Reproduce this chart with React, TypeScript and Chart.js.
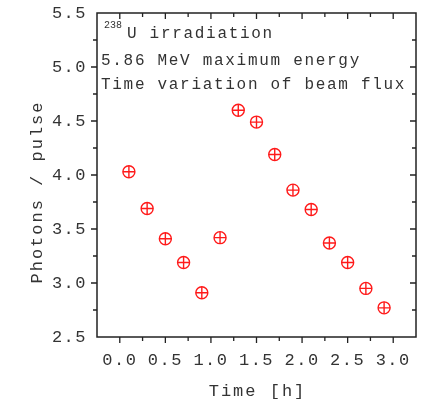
import React, { useEffect, useRef } from "react";
import { Chart, registerables } from "chart.js";

Chart.register(...registerables);

const timeHours = [0.1, 0.3, 0.5, 0.7, 0.9, 1.1, 1.3, 1.5, 1.7, 1.9, 2.1, 2.3, 2.5, 2.7, 2.9];
const photonsPerPulse = [4.03, 3.69, 3.41, 3.19, 2.91, 3.42, 4.6, 4.49, 4.19, 3.86, 3.68, 3.37, 3.19, 2.95, 2.77];
const xTickValues = [0, 0.5, 1.0, 1.5, 2.0, 2.5, 3.0];
const yTickValues = [2.5, 3.0, 3.5, 4.0, 4.5, 5.0, 5.5];
const xMinorStep = 0.25;
const yMinorStep = 0.25;
const annotationLines = ["U irradiation", "5.86 MeV maximum energy", "Time variation of beam flux"];
const annotationSup = "238";
const xTitle = "Time [h]";
const yTitle = "Photons / pulse";

const FONT = "'Liberation Mono', 'DejaVu Sans Mono', monospace";
const TEXT = "#333";
const RED = "#ff1a1a";

const framePlugin = {
  id: "frame",
  beforeDraw(chart: any) {
    chart.ctx.letterSpacing = "1.5px";
  },
  afterDraw(chart: any) {
    const { ctx, chartArea } = chart;
    const xs = chart.scales.x;
    const ys = chart.scales.y;
    const { left, right, top, bottom } = chartArea;
    ctx.save();
    ctx.strokeStyle = "#222";
    ctx.lineWidth = 1.5;
    ctx.strokeRect(left, top, right - left, bottom - top);
    ctx.lineWidth = 1.3;
    ctx.beginPath();
    const eps = 1e-6;
    for (let v = xs.min + xMinorStep; v < xs.max - eps; v += xMinorStep) {
      const px = xs.getPixelForValue(v);
      const major = Math.abs(v / 0.5 - Math.round(v / 0.5)) < 1e-6;
      const len = major ? 6 : 4;
      ctx.moveTo(px, bottom);
      ctx.lineTo(px, bottom + len);
      ctx.moveTo(px, top);
      ctx.lineTo(px, top + len);
    }
    for (let v = ys.min + yMinorStep; v < ys.max - eps; v += yMinorStep) {
      const py = ys.getPixelForValue(v);
      const major = Math.abs(v / 0.5 - Math.round(v / 0.5)) < 1e-6;
      const len = major ? 6 : 4;
      ctx.moveTo(left, py);
      ctx.lineTo(left - len, py);
      ctx.moveTo(right, py);
      ctx.lineTo(right - len, py);
    }
    ctx.stroke();

    // annotation
    ctx.fillStyle = TEXT;
    ctx.textBaseline = "alphabetic";
    ctx.textAlign = "left";
    ctx.letterSpacing = "0px";
    ctx.font = `10px ${FONT}`;
    ctx.fillText(annotationSup, left + 7, top + 15);
    ctx.letterSpacing = "1.7px";
    ctx.font = `16px ${FONT}`;
    const supW = 28;
    ctx.fillText(annotationLines[0], left + 2 + supW, top + 25);
    ctx.fillText(annotationLines[1], left + 4, top + 52);
    ctx.fillText(annotationLines[2], left + 4, top + 76);

    // axis titles
    ctx.letterSpacing = "2px";
    ctx.font = `17px ${FONT}`;
    ctx.textAlign = "center";
    ctx.textBaseline = "middle";
    ctx.fillText(xTitle, (left + right) / 2 + 1, 391);
    ctx.save();
    ctx.translate(37, 192);
    ctx.rotate(-Math.PI / 2);
    ctx.fillText(yTitle, 0, 0);
    ctx.restore();
    ctx.restore();
  },
};

export default function App() {
  const ref = useRef<HTMLCanvasElement>(null);
  useEffect(() => {
    document.body.style.margin = "0";
    const chart = new Chart(ref.current!, {
      type: "scatter",
      data: {
        datasets: [
          {
            data: timeHours.map((x, i) => ({ x, y: photonsPerPulse[i] })),
            pointStyle: "circle",
            pointRadius: 6,
            pointBorderColor: RED,
            pointBackgroundColor: "rgba(0,0,0,0)",
            pointBorderWidth: 1.4,
            showLine: false,
          },
          {
            data: timeHours.map((x, i) => ({ x, y: photonsPerPulse[i] })),
            pointStyle: "cross",
            pointRadius: 6,
            pointBorderColor: RED,
            pointBackgroundColor: RED,
            pointBorderWidth: 1.4,
            showLine: false,
          },
        ],
      },
      options: {
        animation: false,
        responsive: true,
        maintainAspectRatio: false,
        layout: { padding: { left: 0, top: 13, right: 14, bottom: 0 } },
        plugins: { legend: { display: false }, tooltip: { enabled: false } },
        scales: {
          x: {
            type: "linear",
            min: -0.25,
            max: 3.25,
            afterBuildTicks: (s: any) => {
              s.ticks = xTickValues.map((value) => ({ value }));
            },
            afterFit: (s: any) => {
              s.height = 69;
              s.paddingLeft = 0;
              s.paddingRight = 0;
            },
            grid: { display: false, drawTicks: false },
            border: { display: false },
            ticks: {
              padding: 13,
              color: TEXT,
              font: { family: FONT, size: 17 },
              maxRotation: 0,
              autoSkip: false,
              callback: (v: any) => Number(v).toFixed(1),
            },
          },
          y: {
            type: "linear",
            min: 2.5,
            max: 5.5,
            afterBuildTicks: (s: any) => {
              s.ticks = yTickValues.map((value) => ({ value }));
            },
            afterFit: (s: any) => {
              s.width = 97;
              s.paddingTop = 0;
              s.paddingBottom = 0;
            },
            grid: { display: false, drawTicks: false },
            border: { display: false },
            ticks: {
              padding: 10,
              color: TEXT,
              font: { family: FONT, size: 17 },
              autoSkip: false,
              callback: (v: any) => Number(v).toFixed(1),
            },
          },
        },
      },
      plugins: [framePlugin],
    });
    return () => chart.destroy();
  }, []);
  return (
    <div style={{ position: "relative", width: 430, height: 406 }}>
      <canvas ref={ref} />
    </div>
  );
}
